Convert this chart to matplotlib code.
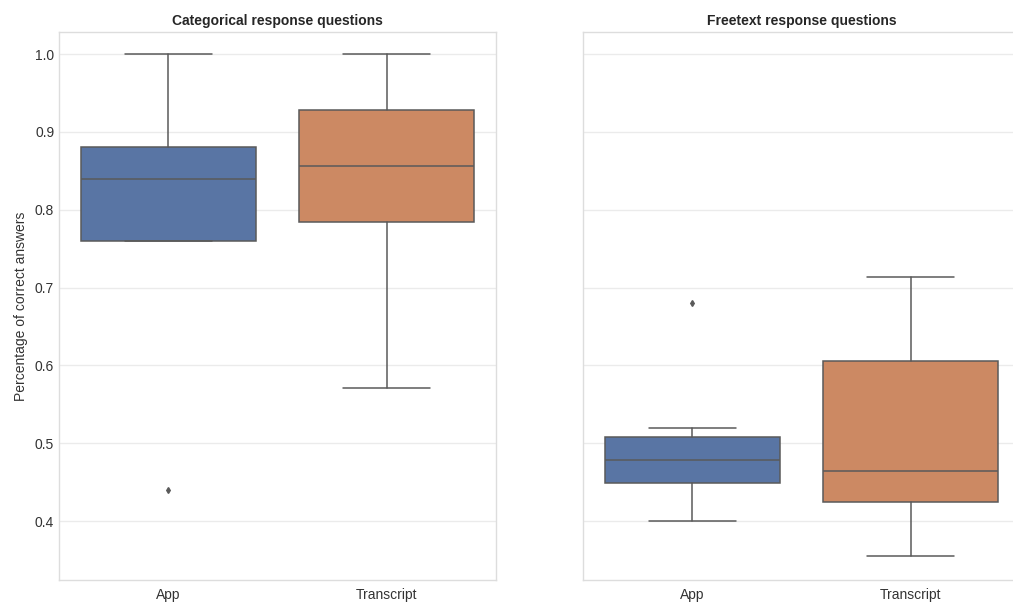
import matplotlib
matplotlib.use("Agg")
import matplotlib.pyplot as plt
import seaborn as sns

sns.set_theme(style="whitegrid")
plt.rcParams["font.family"] = ["Liberation Sans", "DejaVu Sans"]

groups = ["App", "Transcript"]
panel_titles = ["Categorical response questions", "Freetext response questions"]

# Five-number summaries per panel and group: (whislo, q1, med, q3, whishi)
categorical_stats = {
    "App":        (0.76, 0.76, 0.84, 0.88, 1.00),
    "Transcript": (0.571, 0.784, 0.856, 0.928, 1.00),
}
freetext_stats = {
    "App":        (0.40, 0.449, 0.478, 0.508, 0.519),
    "Transcript": (0.355, 0.425, 0.464, 0.605, 0.713),
}
categorical_outliers = {"App": [0.44], "Transcript": []}
freetext_outliers = {"App": [0.68], "Transcript": []}

box_colors = ["#5975a4", "#cc8963"]
line_color = "#5a5a5a"

fig = plt.figure(figsize=(10.13, 6.03), dpi=100)
ax1 = fig.add_axes([59 / 1013, 23 / 603, 437 / 1013, 548 / 603])
ax2 = fig.add_axes([583 / 1013, 23 / 603, 437 / 1013, 548 / 603], sharey=ax1)


def draw_panel(ax, stats, outliers, title):
    bxp_stats = []
    for g in groups:
        lo, q1, med, q3, hi = stats[g]
        bxp_stats.append(dict(whislo=lo, q1=q1, med=med, q3=q3, whishi=hi,
                              fliers=outliers[g], label=g))
    parts = ax.bxp(
        bxp_stats, positions=range(len(groups)), widths=0.8,
        patch_artist=True, showfliers=True,
        boxprops=dict(edgecolor=line_color, linewidth=1.1),
        whiskerprops=dict(color=line_color, linewidth=1.1),
        capprops=dict(color=line_color, linewidth=1.1),
        medianprops=dict(color=line_color, linewidth=1.1),
        flierprops=dict(marker="d", markersize=3, markerfacecolor=line_color,
                        markeredgecolor=line_color),
    )
    for patch, c in zip(parts["boxes"], box_colors):
        patch.set_facecolor(c)
    ax.set_xlim(-0.5, len(groups) - 0.5)
    ax.set_xticks(range(len(groups)))
    ax.set_xticklabels(groups)
    ax.xaxis.grid(False)
    ax.yaxis.grid(True, color="#ebebeb", linewidth=1.0)
    ax.set_title(title, fontsize=10, fontweight="bold", pad=5)
    ax.tick_params(axis="both", labelsize=10, colors="#333333", length=0)
    ax.tick_params(axis="x", pad=6)
    for s in ax.spines.values():
        s.set_color("#dddddd")
        s.set_linewidth(1.0)


draw_panel(ax1, categorical_stats, categorical_outliers, panel_titles[0])
draw_panel(ax2, freetext_stats, freetext_outliers, panel_titles[1])

ax1.set_ylim(0.3242, 1.0283)
ax1.set_yticks([0.4, 0.5, 0.6, 0.7, 0.8, 0.9, 1.0])
ax1.set_ylabel("Percentage of correct answers", fontsize=10, color="#333333",
               labelpad=5)
plt.setp(ax2.get_yticklabels(), visible=False)

fig.savefig("out.png", dpi=100)
